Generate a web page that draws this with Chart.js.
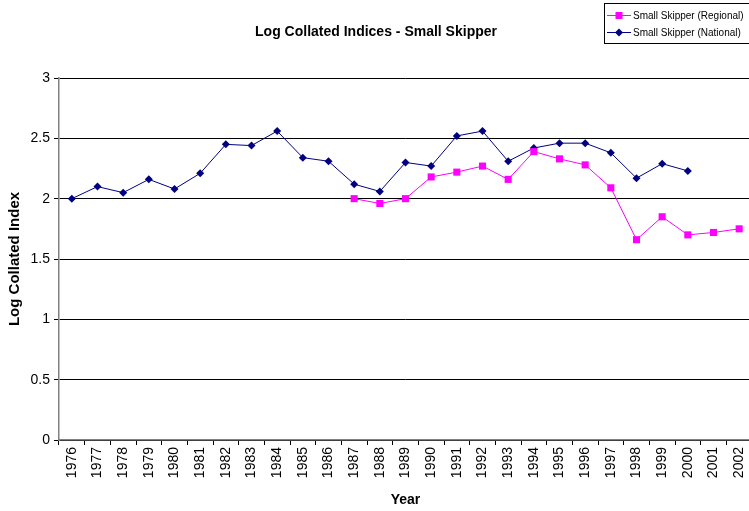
<!DOCTYPE html>
<html>
<head>
<meta charset="utf-8">
<script src="https://cdn.jsdelivr.net/npm/chart.js@4.4.1/dist/chart.umd.min.js"></script>
<style>
  html, body { margin: 0; padding: 0; background: #fff; overflow: hidden; }
</style>
</head>
<body>
<!-- plot area runs a few pixels past the right edge in the original, so the canvas is slightly wider than the window -->
<canvas id="chart" width="752" height="511"></canvas>
<script>
// ---- data ----
const years = ["1976","1977","1978","1979","1980","1981","1982","1983","1984","1985","1986","1987","1988","1989",
               "1990","1991","1992","1993","1994","1995","1996","1997","1998","1999","2000","2001","2002"];
const regional = [null,null,null,null,null,null,null,null,null,null,null,
                  2.00,1.96,2.00,2.18,2.22,2.27,2.16,2.39,2.33,2.28,2.09,1.66,1.85,1.70,1.72,1.75];
const national = [2.00,2.10,2.05,2.16,2.08,2.21,2.45,2.44,2.56,2.34,2.31,2.12,2.06,2.30,
                  2.27,2.52,2.56,2.31,2.42,2.46,2.46,2.38,2.17,2.29,2.23,null,null];
const yTicks = [0, 0.5, 1, 1.5, 2, 2.5, 3];

const FONT = "'Liberation Sans', Arial, sans-serif";

// boxed legend, drawn in the top right corner like the original
const boxLegend = {
  id: "boxLegend",
  afterDraw(chart) {
    const ctx = chart.ctx;
    ctx.save();
    ctx.fillStyle = "#fff";
    ctx.fillRect(604.5, 3.5, 150, 40);
    ctx.strokeStyle = "#000";
    ctx.lineWidth = 1;
    ctx.strokeRect(604.5, 3.5, 150, 40);

    chart.data.datasets.forEach((ds, i) => {
      const y = 15.5 + i * 17;
      ctx.strokeStyle = ds.borderColor;
      ctx.lineWidth = 1;
      ctx.beginPath();
      ctx.moveTo(607, y);
      ctx.lineTo(631, y);
      ctx.stroke();
      ctx.fillStyle = ds.borderColor;
      ctx.beginPath();
      if (ds.pointStyle === "rect") {
        ctx.rect(619 - 3.5, y - 3.5, 7, 7);
      } else {
        ctx.moveTo(619 - 4, y);
        ctx.lineTo(619, y - 4);
        ctx.lineTo(619 + 4, y);
        ctx.lineTo(619, y + 4);
        ctx.closePath();
      }
      ctx.fill();
      ctx.fillStyle = "#000";
      ctx.font = "10px " + FONT;
      ctx.textBaseline = "middle";
      ctx.fillText(ds.label, 633, y + 0.5);
    });
    ctx.restore();
  }
};

new Chart(document.getElementById("chart"), {
  type: "line",
  data: {
    labels: years,
    datasets: [
      {
        label: "Small Skipper (Regional)",
        data: regional,
        borderColor: "#FF00FF",
        backgroundColor: "#FF00FF",
        borderWidth: 1,
        pointStyle: "rect",
        pointRadius: 5,
        pointBorderWidth: 0,
        tension: 0
      },
      {
        label: "Small Skipper (National)",
        data: national,
        borderColor: "#000080",
        backgroundColor: "#000080",
        borderWidth: 1,
        pointStyle: "rectRot",
        pointRadius: 4,
        pointBorderWidth: 0,
        tension: 0
      }
    ]
  },
  options: {
    responsive: false,
    animation: false,
    layout: { autoPadding: false, padding: 0 },
    plugins: {
      legend: { display: false },
      tooltip: { enabled: false },
      title: {
        display: true,
        text: "Log Collated Indices - Small Skipper",
        color: "#000",
        font: { family: FONT, size: 14, weight: "bold" },
        padding: { top: 24, bottom: 37.2 }
      }
    },
    scales: {
      x: {
        offset: true,
        grid: { display: true, drawOnChartArea: false, offset: true, color: "#000", tickLength: 5 },
        border: { color: "#808080", width: 1.5 },
        ticks: {
          autoSkip: false, minRotation: 90, maxRotation: 90,
          color: "#000", padding: 2,
          font: { family: FONT, size: 14 }
        },
        title: {
          display: true, text: "Year", color: "#000",
          font: { family: FONT, size: 14, weight: "bold" },
          padding: { top: 4, bottom: 2 }
        },
        afterFit: s => { s.height = 71; s.paddingLeft = 0; s.paddingRight = 0; }
      },
      y: {
        min: 0, max: 3,
        afterBuildTicks: s => { s.ticks = yTicks.map(v => ({ value: v })); },
        grid: { color: "#000", tickLength: 5 },
        border: { color: "#808080", width: 1.5 },
        ticks: {
          color: "#000", padding: 4,
          font: { family: FONT, size: 14 },
          callback: v => String(v)
        },
        title: {
          display: true, text: "Log Collated Index", color: "#000",
          font: { family: FONT, size: 15, weight: "bold" },
          padding: { top: 6, bottom: 0 }
        },
        afterFit: s => { s.width = 59; }
      }
    }
  },
  plugins: [boxLegend]
});
</script>
</body>
</html>
